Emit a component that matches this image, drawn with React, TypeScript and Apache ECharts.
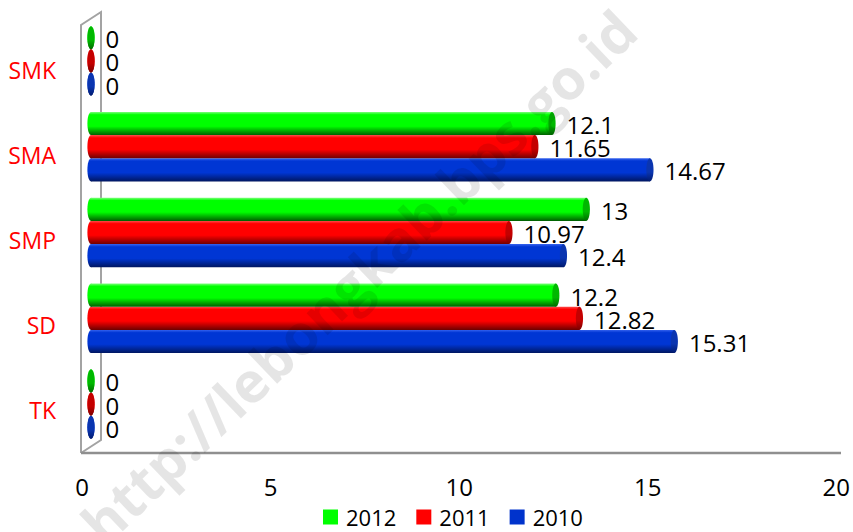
import React, { useEffect, useRef } from "react";
import * as echarts from "echarts";

const categories = ["TK", "SD", "SMP", "SMA", "SMK"];
const seriesNames = ["2010", "2011", "2012"];
const values2010 = [0, 15.31, 12.4, 14.67, 0];
const values2011 = [0, 12.82, 10.97, 11.65, 0];
const values2012 = [0, 12.2, 13, 12.1, 0];
const legendOrder = ["2012", "2011", "2010"];
const xMin = 0;
const xMax = 20;
const xInterval = 5;
const watermarkText = "http://lebongkab.bps.go.id";

const FONT = "'Open Sans', 'Noto Sans', sans-serif";

const palettes: Record<string, { legend: string; light: string; main: string; dark: string; cap: string; capDark: string }> = {
  "2010": { legend: "#0033cc", light: "#3562ee", main: "#0036d4", dark: "#001660", cap: "#0a35b0", capDark: "#001a70" },
  "2011": { legend: "#ff0000", light: "#ff4a4a", main: "#ff0000", dark: "#6e0000", cap: "#c40000", capDark: "#7a0000" },
  "2012": { legend: "#00ff00", light: "#7dff7d", main: "#00ff00", dark: "#005e00", cap: "#00b800", capDark: "#006a00" },
};

// vertical slot within a category group (0 = top)
const slotOf: Record<string, number> = { "2012": 0, "2011": 1, "2010": 2 };

function makeRenderItem(name: string) {
  const pal = palettes[name];
  const slot = slotOf[name];
  return (params: any, api: any) => {
    const val = api.value(0);
    const cat = api.value(1);
    const start = api.coord([0, cat]);
    const end = api.coord([val, cat]);
    const band = api.size([0, 1])[1];
    const h = band * 0.27;
    const top = start[1] - 1.5 * h + slot * h;
    const cy = top + h / 2;
    const rx = 3.6;
    const body = new echarts.graphic.LinearGradient(0, 0, 0, 1, [
      { offset: 0, color: pal.light },
      { offset: 0.12, color: pal.main },
      { offset: 0.62, color: pal.main },
      { offset: 1, color: pal.dark },
    ]);
    const cap = new echarts.graphic.LinearGradient(0, 0, 0, 1, [
      { offset: 0, color: pal.cap },
      { offset: 0.6, color: pal.cap },
      { offset: 1, color: pal.capDark },
    ]);
    return {
      type: "group",
      children: [
        { type: "ellipse", shape: { cx: start[0], cy, rx, ry: h / 2 }, style: { fill: body } },
        {
          type: "rect",
          shape: { x: start[0], y: top, width: Math.max(0, end[0] - start[0]), height: h },
          style: { fill: body },
        },
        { type: "ellipse", shape: { cx: end[0], cy, rx, ry: h / 2 }, style: { fill: cap } },
        {
          type: "text",
          x: end[0] + rx + 11,
          y: cy + 1,
          style: {
            text: String(val),
            fill: "#000",
            fontSize: 24,
            fontFamily: FONT,
            align: "left",
            verticalAlign: "middle",
          },
        },
      ],
    };
  };
}

const seriesValues: Record<string, number[]> = {
  "2010": values2010,
  "2011": values2011,
  "2012": values2012,
};

export default function App() {
  const ref = useRef<HTMLDivElement>(null);
  useEffect(() => {
    document.body.style.margin = "0";
    if (!ref.current) return;
    const chart = echarts.init(ref.current, null, { renderer: "svg" });
    const option: any = {
      animation: false,
      backgroundColor: "#ffffff",
      legend: {
        data: legendOrder,
        left: 318,
        top: 501,
        icon: "rect",
        itemWidth: 15,
        itemHeight: 15,
        itemGap: 20,
        textStyle: { fontSize: 22, color: "#000", fontFamily: FONT, padding: [0, 0, 0, 3] },
      },
      grid: [
        { left: 91, top: 18, width: 763, height: 429 },
        { left: 82, top: 28, width: 756, height: 424 },
      ],
      xAxis: [
        { gridIndex: 0, type: "value", min: xMin, max: xMax, show: false },
        {
          gridIndex: 1,
          type: "value",
          min: xMin,
          max: xMax,
          interval: xInterval,
          axisLine: { show: false },
          axisTick: { show: false },
          splitLine: { show: false },
          axisLabel: { fontSize: 24, color: "#000", fontFamily: FONT, margin: 22 },
        },
      ],
      yAxis: [
        { gridIndex: 0, type: "category", data: categories, show: false },
        {
          gridIndex: 1,
          type: "category",
          data: categories,
          axisLine: { show: false },
          axisTick: { show: false },
          splitLine: { show: false },
          axisLabel: { fontSize: 23, color: "#ff0000", fontFamily: FONT, margin: 26 },
        },
      ],
      series: seriesNames.map((name) => ({
        name,
        type: "custom",
        xAxisIndex: 0,
        yAxisIndex: 0,
        itemStyle: { color: palettes[name].legend },
        encode: { x: 0, y: 1 },
        data: seriesValues[name].map((v, i) => [v, i]),
        renderItem: makeRenderItem(name),
        z: 3,
      })),
      graphic: [
        {
          type: "polyline",
          z: 1,
          shape: { points: [[81, 453], [81, 25], [101, 12], [101, 440], [81, 453]] },
          style: { stroke: "#a3a3a3", lineWidth: 2, fill: "none" },
        },
        {
          type: "line",
          z: 1,
          shape: { x1: 81, y1: 453, x2: 841, y2: 453 },
          style: { stroke: "#8f8f8f", lineWidth: 2.5 },
        },
        {
          type: "text",
          z: 100,
          x: 358,
          y: 276,
          rotation: 0.763,
          style: {
            text: watermarkText,
            fill: "rgba(0,0,0,0.1)",
            fontSize: 56,
            fontWeight: "bold",
            fontFamily: FONT,
            align: "center",
            verticalAlign: "middle",
          },
        },
      ],
    };
    chart.setOption(option);
    return () => chart.dispose();
  }, []);
  return <div ref={ref} style={{ width: 853, height: 532 }} />;
}
